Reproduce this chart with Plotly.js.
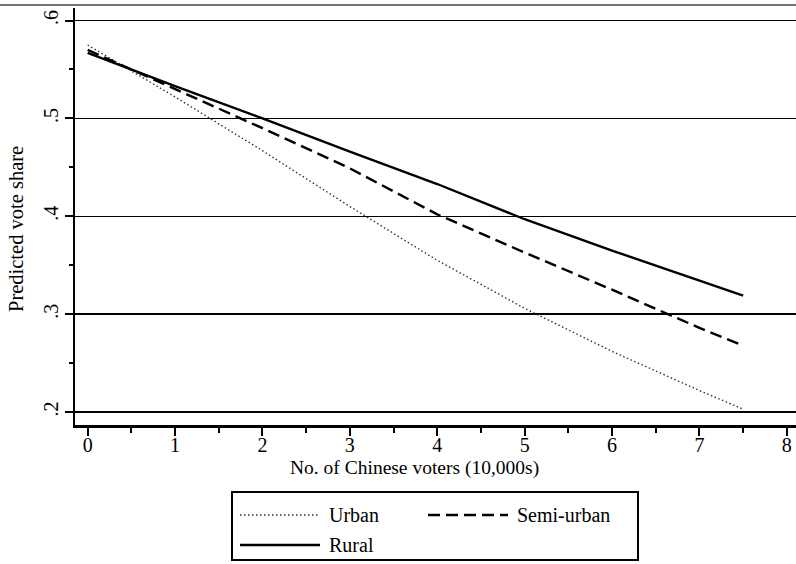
<!DOCTYPE html>
<html>
<head>
<meta charset="utf-8">
<script src="https://cdn.plot.ly/plotly-3.0.1.min.js"></script>
<style>
  html, body { margin: 0; padding: 0; background: #fff; }
  #chart { width: 796px; height: 564px; }
</style>
</head>
<body>
<div id="chart"></div>
<script>
// Number of Chinese voters (10,000s)
const voters = [0, 1, 2, 3, 4, 5, 6, 7, 7.5];

// Predicted vote share by district type
const urban     = [0.575, 0.522, 0.467, 0.410, 0.355, 0.306, 0.262, 0.222, 0.203];
const semiUrban = [0.570, 0.530, 0.490, 0.449, 0.402, 0.363, 0.325, 0.286, 0.268];
const rural     = [0.567, 0.533, 0.500, 0.466, 0.433, 0.397, 0.365, 0.334, 0.319];

const seriesNames = ['Urban', 'Semi-urban', 'Rural'];

const xTicks = [0, 1, 2, 3, 4, 5, 6, 7, 8];
const xTickText = ['0', '1', '2', '3', '4', '5', '6', '7', '8'];
const yTicks = [0.2, 0.3, 0.4, 0.5, 0.6];
const yTickText = ['.2', '.3', '.4', '.5', '.6'];

const FONT = 'Liberation Serif, Times New Roman, serif';
const W = 796, H = 564;
const M = { l: 75, r: 0, t: 8, b: 139 };
const PW = W - M.l - M.r, PH = H - M.t - M.b;

// pixel -> paper helpers for the legend box and titles
const px = x => (x - M.l) / PW;
const py = y => (H - M.b - y) / PH;

const styles = [
  { dash: '1.5px,2.5px', width: 1.4, color: '#333' },
  { dash: '12px,6px', width: 2.4, color: '#000' },
  { dash: 'solid', width: 2.4, color: '#000' }
];
const values = [urban, semiUrban, rural];

const traces = values.map((v, i) => ({
  x: voters,
  y: v,
  type: 'scatter',
  mode: 'lines',
  name: seriesNames[i],
  line: { color: styles[i].color, width: styles[i].width, dash: styles[i].dash },
  hoverinfo: 'skip'
}));

// legend layout: two columns, two rows, inside a framed box
const legendBox = { x0: 232, x1: 638, y0: 492, y1: 560 };
const legendItems = [
  { s: 0, x: 240, y: 515 },
  { s: 1, x: 428, y: 515 },
  { s: 2, x: 240, y: 545 }
];
const sampleLen = 80;

const shapes = [
  // frame rule across the top of the figure
  { type: 'line', xref: 'paper', yref: 'paper', x0: px(0), x1: px(W), y0: py(5), y1: py(5),
    line: { color: '#444', width: 1.5 } },
  { type: 'rect', xref: 'paper', yref: 'paper',
    x0: px(legendBox.x0), x1: px(legendBox.x1), y0: py(legendBox.y1), y1: py(legendBox.y0),
    line: { color: '#000', width: 2 }, fillcolor: 'rgba(0,0,0,0)' }
];
const annotations = [
  { xref: 'paper', yref: 'paper', x: px(414), y: py(468), text: 'No. of Chinese voters (10,000s)',
    showarrow: false, xanchor: 'center', yanchor: 'middle', font: { family: FONT, size: 19.5, color: '#000' } },
  { xref: 'paper', yref: 'paper', x: px(16), y: py(229), text: 'Predicted vote share', textangle: -90,
    showarrow: false, xanchor: 'center', yanchor: 'middle', font: { family: FONT, size: 20.5, color: '#000' } }
];
legendItems.forEach(it => {
  const st = styles[it.s];
  shapes.push({ type: 'line', xref: 'paper', yref: 'paper',
    x0: px(it.x), x1: px(it.x + sampleLen), y0: py(it.y), y1: py(it.y),
    line: { color: st.color, width: st.width, dash: st.dash } });
  annotations.push({ xref: 'paper', yref: 'paper', x: px(it.x + sampleLen + 7), y: py(it.y),
    text: seriesNames[it.s], showarrow: false, xanchor: 'left', yanchor: 'middle',
    font: { family: FONT, size: 20, color: '#000' } });
});

const layout = {
  width: W, height: H,
  margin: M,
  paper_bgcolor: '#fff', plot_bgcolor: '#fff',
  showlegend: false,
  font: { family: FONT, size: 18, color: '#000' },
  xaxis: {
    range: [-0.145, 8.105],
    tickvals: xTicks, ticktext: xTickText,
    ticks: 'outside', ticklen: 8, tickwidth: 2, tickcolor: '#000',
    ticklabelstandoff: -8,
    minor: { dtick: 0.5, tick0: 0, ticks: 'outside', ticklen: 5, tickwidth: 2, tickcolor: '#000', showgrid: false },
    showline: true, linecolor: '#000', linewidth: 2.5,
    showgrid: false, zeroline: false,
    tickfont: { family: FONT, size: 20, color: '#000' }
  },
  yaxis: {
    range: [0.1868, 0.6128],
    tickvals: yTicks, ticktext: yTickText, tickangle: -90,
    ticks: 'outside', ticklen: 8, tickwidth: 2, tickcolor: '#000',
    ticklabelstandoff: -1,
    minor: { dtick: 0.05, tick0: 0.2, ticks: 'outside', ticklen: 4, tickwidth: 2, tickcolor: '#000', showgrid: false },
    showline: true, linecolor: '#000', linewidth: 2.5,
    showgrid: true, gridcolor: '#000', gridwidth: 1.5,
    zeroline: false,
    tickfont: { family: FONT, size: 20, color: '#000' }
  },
  shapes: shapes,
  annotations: annotations
};

Plotly.newPlot('chart', traces, layout, { displayModeBar: false, staticPlot: true });
</script>
</body>
</html>
